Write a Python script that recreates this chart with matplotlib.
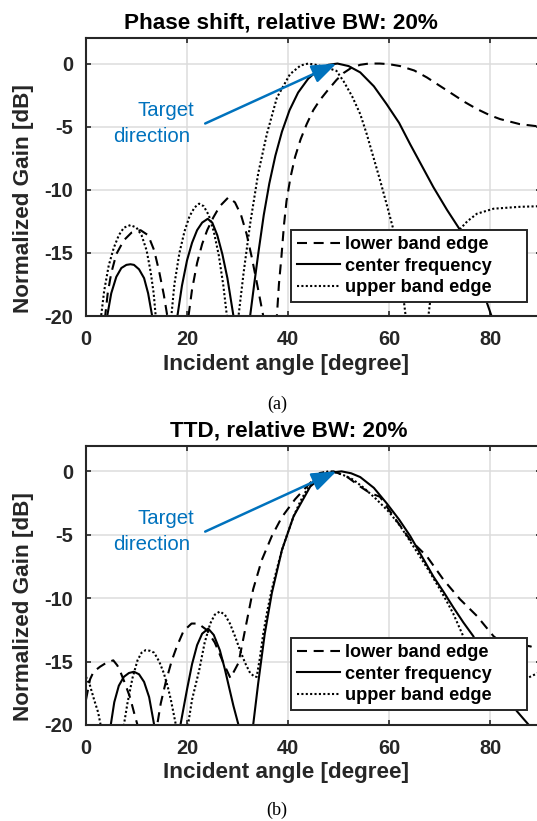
import matplotlib
matplotlib.use("Agg")
import matplotlib.pyplot as plt

plt.rcParams["font.family"] = ["Liberation Sans", "DejaVu Sans"]
plt.rcParams["font.weight"] = "bold"
plt.rcParams["axes.unicode_minus"] = False

# (a) phase shift, -40 marks a null below the axis
ps_lower_x = [0, 3.8, 4.3, 5, 6, 7.5, 9, 10.8, 12.3, 13.5, 14.5, 15.4, 16.1, 18,
              20.3, 21, 22, 23, 24, 25.2, 26.5, 28.2, 29.5, 30.7, 31.8, 32.8, 33.8, 35.1, 36.5,
              37.8, 38.2, 38.7, 39.2, 39.7, 40.5, 41.4, 42.5, 43.7, 45, 46.3, 47.7, 49.6, 51,
              52.5, 54.3, 56, 58.2, 60, 62.2, 65, 67.5, 70, 72.7, 75, 77.4, 80, 82, 85.9, 90]
ps_lower_y = [-40, -20, -18.2, -16.6, -15.1, -14.0, -13.4, -13.2, -13.6, -14.8, -16.5, -18.3, -20, -40,
              -20, -17.9, -15.8, -14.3, -13.2, -12.2, -11.3, -10.6, -11.0, -12.0, -13.5, -15.3, -17.3, -20, -40,
              -20, -17.5, -15.3, -12.8, -10.9, -9.0, -7.4, -6.0, -4.8, -3.7, -2.9, -2.2, -1.3, -0.75,
              -0.35, -0.1, 0.0, 0.0, -0.05, -0.2, -0.55, -1.1, -1.75, -2.45, -3.05, -3.6, -4.1, -4.4, -4.8, -5.0]

ps_center_x = [0, 4.2, 5, 6, 7, 8, 8.8, 9.5, 10.5, 11.5, 12.3, 13.1, 15.6,
               18.1, 19, 20, 21, 22, 23, 24.1, 25, 26, 27, 28, 28.6, 29.2, 31,
               32.5, 33.3, 34.2, 35.2, 36.3, 37.5, 38.8, 40.3, 42, 44, 46, 48, 49.8, 52, 54.3,
               57, 59.5, 62, 64.2, 66.5, 68.8, 71.5, 74.1, 76, 77.4, 79, 80.3, 82, 90]
ps_center_y = [-40, -20, -18.2, -16.9, -16.2, -15.95, -15.9, -15.95, -16.3, -17.0, -18.2, -20, -40,
               -20, -17.6, -15.6, -14.2, -13.2, -12.6, -12.3, -12.6, -13.6, -15.1, -17.0, -18.5, -20, -40,
               -20, -17.5, -14.8, -12.0, -9.5, -7.3, -5.4, -3.7, -2.3, -1.2, -0.5, -0.1, 0.0, -0.2, -0.7,
               -1.8, -3.2, -4.7, -6.4, -8.1, -9.8, -11.6, -13.2, -15.0, -16.9, -18.5, -20, -40, -40]

ps_upper_x = [0, 3.0, 3.6, 4.5, 5.5, 6.5, 7.5, 8.8, 10, 11, 12, 12.8, 13.4, 13.8, 15.3,
              16.9, 17.5, 18.5, 19.5, 20.5, 21.5, 22.4, 23.3, 24.3, 25.3, 26.3, 27.2, 27.9, 29,
              30.2, 31.2, 32.5, 34.1, 35.8, 37.8, 40.4, 42.5, 44, 45.5, 47.5, 49.6, 51, 52.7,
              54.3, 55.6, 56.9, 58.2, 59.5, 60.9, 62.2, 63.3, 65.5,
              67.8, 68.4, 69.2, 70.5, 72.7, 74.1, 75.5, 77.4, 80.7, 85.9, 90]
ps_upper_y = [-40, -20, -18, -16, -14.6, -13.6, -13.0, -12.8, -13.0, -13.6, -14.8, -16.5, -18.2, -20, -40,
              -20, -17.5, -15.0, -13.3, -12.1, -11.4, -11.1, -11.3, -12.0, -13.3, -15.2, -17.6, -20, -40,
              -20, -16.6, -12.7, -8.7, -5.6, -2.7, -0.84, -0.15, 0.0, -0.1, -0.3, -0.58, -1.4, -2.6,
              -4.0, -5.6, -7.4, -9.2, -11.1, -13.2, -16.4, -20, -40,
              -20, -18, -16.5, -15.0, -13.9, -13.1, -12.5, -11.9, -11.5, -11.35, -11.3]

# (b) true time delay
ttd_lower_x = [0, 0.8, 1.5, 2.8, 4, 5.4, 6.2, 6.7, 7.7, 8.7, 9.7, 10.2, 12,
               14.1, 14.8, 15.8, 17, 18, 19.3, 20.9, 22.2, 23.9, 25.5, 27.2, 28.6,
               30.2, 31.5, 33.1, 34.8, 36.8, 38.8, 41.4, 43.7, 46.3, 47.5, 49, 50, 51.6,
               54.3, 56.2, 58.2, 60.9, 64.2, 67.5, 70.8, 74.1, 77.4, 80.7, 82, 85, 88, 90]
ttd_lower_y = [-18.0, -16.4, -15.8, -15.4, -15.1, -14.9, -15.3, -15.7, -16.7, -17.8, -19.3, -20, -40,
               -20, -18.3, -16.6, -14.9, -13.8, -12.6, -12.0, -12.0, -12.5, -13.5, -15.1, -16.3,
               -15.1, -12.5, -9.3, -7.0, -5.1, -3.6, -2.2, -1.2, -0.13, -0.05, 0.0, -0.15, -0.4,
               -1.2, -1.7, -2.0, -3.55, -5.4, -6.7, -8.55, -10.1, -11.4, -13.0, -13.4, -13.6, -13.8, -14.1]

ttd_center_x = [0, 4.9, 5.6, 6.5, 7.5, 8.5, 9.5, 10.5, 11.5, 12.5, 13.5, 16,
                18.7, 19.3, 20, 21, 22, 23, 24.2, 25.3, 26.5, 27.5, 28.2, 29.2, 30.2, 31.7,
                33.1, 34.1, 35.4, 36.8, 38.8, 41.1, 44.4, 47.5, 50.6, 52.5, 54.3, 57, 59.5,
                62, 64.2, 66.5, 68.8, 70.8, 72.7, 74.7, 76.7, 79, 81.5, 83.5, 85.3, 86.6, 87.7, 90]
ttd_center_y = [-40, -20, -18.2, -16.9, -16.2, -15.9, -15.8, -16.0, -16.6, -17.8, -20, -40,
                -20, -18.7, -17.2, -15.2, -13.7, -12.8, -12.4, -12.9, -14.1, -15.6, -16.8, -18.5, -20, -40,
                -20, -16.7, -12.8, -9.6, -6.2, -3.55, -1.2, -0.15, 0.0, -0.15, -0.45, -1.3, -2.5,
                -3.8, -5.1, -6.7, -8.3, -9.5, -10.7, -11.9, -13.0, -14.9, -16.7, -17.9, -18.9, -19.5, -20, -30]

ttd_upper_x = [0, 0.8, 1.6, 2.4, 2.9, 5,
               7.5, 8.2, 9.2, 10.2, 11, 11.8, 12.7, 13.5, 14.5, 15.4, 16.2, 16.8, 17.8, 19,
               20.2, 21, 22.4, 23.5, 24.6, 25.5, 26.5, 27.5, 28.5, 29.5, 30.5, 31.5, 32.5, 33.4,
               33.8, 34.4, 35.1, 35.9, 36.8, 37.8, 38.8, 40, 41.1, 42.4, 43.7, 45.3, 47, 48,
               49.6, 51, 52.9, 55, 57.5, 60, 62.2, 64, 66.1, 68, 70.1, 71.5, 72.7, 74.7,
               77, 80, 84, 87.4, 90]
ttd_upper_y = [-16.2, -16.9, -18.0, -19.0, -20, -40,
               -20, -18.3, -16.3, -14.9, -14.3, -14.1, -14.15, -14.3, -15.0, -15.9, -17.0, -18.0, -20, -40,
               -20, -18.0, -15.7, -13.5, -12.0, -11.3, -11.05, -11.3, -12.0, -13.0, -14.1, -15.1, -15.9, -16.2,
               -16.2, -14.8, -12.8, -11.0, -9.3, -7.7, -6.2, -4.8, -3.55, -2.4, -1.45, -0.65, -0.1, 0.0,
               -0.1, -0.3, -0.65, -1.3, -2.2, -3.2, -4.3, -5.4, -6.7, -7.9, -9.3, -10.3, -11.2, -13.0,
               -15.0, -16.5, -16.8, -16.3, -15.8]

legend_labels = ["lower band edge", "center frequency", "upper band edge"]
x_ticks = [0, 20, 40, 60, 80]
y_ticks = [0, -5, -10, -15, -20]

DARK = "#262626"
BLUE = "#0072BD"
DASH = (4.8, 3.2)
DOT = (1.0, 1.1)

fig = plt.figure(figsize=(5.37, 8.21), dpi=100)


def draw_panel(rect, lower, center, upper, title, title_x, title_y, ylab_y, xlab_y,
               legend_top, caption, caption_y):
    ax = fig.add_axes(rect)
    ax.plot(lower[0], lower[1], color="black", lw=1.5, dashes=DASH, label=legend_labels[0])
    ax.plot(center[0], center[1], color="black", lw=1.5, label=legend_labels[1])
    ax.plot(upper[0], upper[1], color="black", lw=1.5, dashes=DOT, label=legend_labels[2])

    ax.set_xlim(0, 90)
    ax.set_ylim(-20, 2)
    ax.set_xticks(x_ticks)
    ax.set_yticks(y_ticks)
    ax.set_yticklabels([str(v) for v in y_ticks])
    ax.grid(True, color="#dcdcdc", lw=1.1)
    ax.set_axisbelow(True)
    ax.tick_params(direction="in", length=3.6, width=1.2, top=True, right=True,
                   labelsize=14.4, colors=DARK)
    ax.tick_params(axis="x", pad=10)
    ax.tick_params(axis="y", pad=9.4)
    for s in ax.spines.values():
        s.set_linewidth(1.5)
        s.set_color(DARK)

    ax.annotate("", xy=(49.6, 0), xytext=(23.6, -4.75),
                arrowprops=dict(arrowstyle="-|>,head_length=0.75,head_width=0.28",
                                color=BLUE, lw=1.8, shrinkA=0, shrinkB=0, mutation_scale=20))
    ax.text(15.9, -3.74, "Target", color=BLUE, fontsize=14.7, fontweight="normal",
            ha="center", va="center")
    ax.text(13.0, -5.8, "direction", color=BLUE, fontsize=14.7, fontweight="normal",
            ha="center", va="center")

    h = 73 / 821
    ax.legend(loc="upper left", bbox_to_anchor=(291 / 537, legend_top - h, 236 / 537, h),
              bbox_transform=fig.transFigure, mode="expand", borderaxespad=0,
              fontsize=13.1, handlelength=2.36, handletextpad=0.27, labelspacing=0.24,
              borderpad=0.34, fancybox=False, framealpha=1, edgecolor=DARK)
    ax.get_legend().get_frame().set_linewidth(1.4)

    fig.text(title_x / 537, 1 - title_y / 821, title, fontsize=16.2, ha="center",
             va="baseline", color="black")
    fig.text(24 / 537, 1 - ylab_y / 821, "Normalized Gain [dB]", fontsize=16.2,
             rotation=90, ha="center", va="center", color=DARK)
    fig.text(286 / 537, 1 - xlab_y / 821, "Incident angle [degree]", fontsize=16.2,
             ha="center", va="baseline", color=DARK)
    fig.text(277 / 537, 1 - caption_y / 821, caption, fontsize=13, fontweight="normal",
             family="Liberation Serif", ha="center", va="center", color="black")
    return ax


draw_panel([86 / 537, 1 - 316 / 821, 454.5 / 537, 277.7 / 821],
           (ps_lower_x, ps_lower_y), (ps_center_x, ps_center_y), (ps_upper_x, ps_upper_y),
           "Phase shift, relative BW: 20%", 281, 28.3, 199, 370, 1 - 230 / 821, "(a)", 404)
draw_panel([86 / 537, 1 - 725 / 821, 454.5 / 537, 279 / 821],
           (ttd_lower_x, ttd_lower_y), (ttd_center_x, ttd_center_y), (ttd_upper_x, ttd_upper_y),
           "TTD, relative BW: 20%", 289, 436.7, 607, 778, 1 - 638 / 821, "(b)", 810)

fig.savefig("out.png", dpi=100, facecolor="white")
